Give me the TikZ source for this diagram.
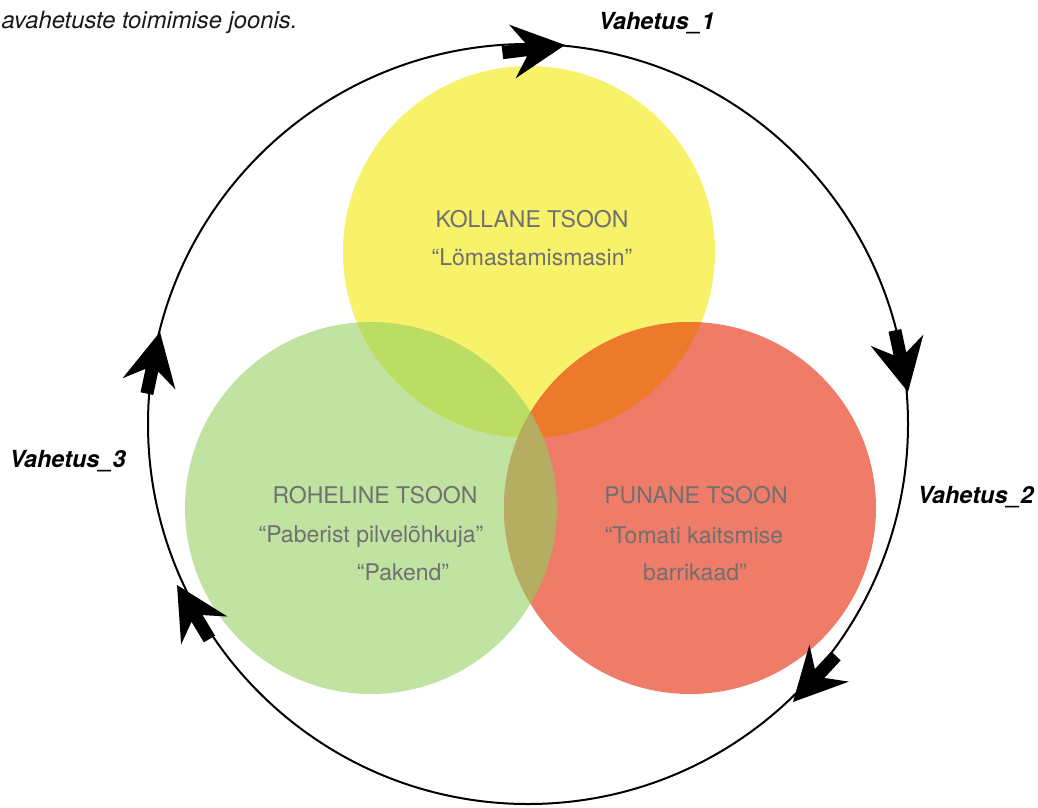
\documentclass[tikz,border=0pt]{standalone}
\usepackage{fontspec}
\setmainfont{TeX Gyre Heros}
\definecolor{yel}{HTML}{F7F26A}
\definecolor{grn}{HTML}{C1E3A1}
\definecolor{redz}{HTML}{EE7C68}
\definecolor{yg}{HTML}{BCDD64}
\definecolor{yr}{HTML}{EC7A2A}
\definecolor{gr}{HTML}{B5AE62}
\definecolor{zonetext}{HTML}{707070}
\tikzset{
  zone/.style={circle, minimum size=372pt, inner sep=0pt},
  zonelabel/.style={anchor=base, text=zonetext, font=\fontsize{23}{27}\selectfont},
  swaplabel/.style={anchor=base west, font=\fontsize{23.5}{27}\selectfont\bfseries\itshape},
  ring/.style={line width=2pt},
  bigarrowshape/.style={fill=black}
}
\newcommand\bigarrow[2]{%
  \fill[bigarrowshape, shift={#1}, rotate=#2]
    (0,0) -- (-53,27) -- (-39,6.5) -- (-63,6.5) -- (-63,-6.5) -- (-39,-6.5) -- (-53,-27) -- cycle;}
\begin{document}
\begin{tikzpicture}[x=1pt,y=1pt]
\useasboundingbox (0,0) rectangle (1038,-807);
% zones
\node[zone, fill=grn] (green) at (371,-508) {};
\node[zone, fill=yel] (yellow) at (529,-252) {};
\node[zone, fill=redz] (red) at (690,-508) {};
\begin{scope}
  \clip (yellow.center) circle (186);
  \fill[yg] (green.center) circle (186);
  \fill[yr] (red.center) circle (186);
\end{scope}
\begin{scope}
  \clip (green.center) circle (186);
  \fill[gr] (red.center) circle (186);
\end{scope}
% ring
\coordinate (ringc) at (528,-424);
\draw[ring] (ringc) circle (380);
\bigarrow{(565,-45)}{7}
\bigarrow{(908,-392)}{-78}
\bigarrow{(793,-702)}{-133}
\bigarrow{(177,-585)}{121}
\bigarrow{(160,-332)}{78}
% zone texts
\node[zonelabel] (k1) at (532,-227) {KOLLANE TSOON};
\node[zonelabel] (k2) at (532,-265) {“Lömastamismasin”};
\node[zonelabel] (g1) at (375,-503) {ROHELINE TSOON};
\node[zonelabel] (g2) at (371,-542) {“Paberist pilvelõhkuja”};
\node[zonelabel] (g3) at (403,-580) {“Pakend”};
\node[zonelabel] (r1) at (696,-503) {PUNANE TSOON};
\node[zonelabel] (r2) at (694,-543) {“Tomati kaitsmise};
\node[zonelabel] (r3) at (695,-580) {barrikaad”};
% swap labels
\node[swaplabel] (v1) at (595,-29) {Vahetus\_1};
\node[swaplabel] (v2) at (914,-503) {Vahetus\_2};
\node[swaplabel] (v3) at (6,-467) {Vahetus\_3};
\node[anchor=base west, font=\fontsize{23.8}{27}\selectfont\itshape, text=black!90] (title) at (-2,-28) {avahetuste toimimise joonis.};
\end{tikzpicture}
\end{document}
